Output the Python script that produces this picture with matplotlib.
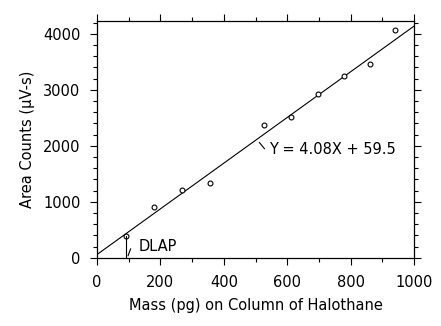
import matplotlib
matplotlib.use("Agg")
import matplotlib.pyplot as plt
import numpy as np

# data
mass = [90, 179, 269, 355, 528, 612, 696, 780, 862, 941]
counts = [398, 909, 1218, 1331, 2377, 2520, 2930, 3251, 3465, 4077]
slope = 4.08
intercept = 59.5
dlap = 90

plt.rcParams['font.family'] = 'DejaVu Sans'

fig = plt.figure(figsize=(4.41, 3.26), dpi=100)
ax = fig.add_axes([0.22, 0.209, 0.719, 0.727])

xfit = np.array([0, 1000])
ax.plot(xfit, slope * xfit + intercept, color='black', lw=0.8)
ax.plot(mass, counts, 'o', mfc='white', mec='black', ms=3.5, mew=0.8)

# DLAP marker
ax.plot([dlap, dlap], [0, counts[0]], color='black', lw=0.8)
ax.plot([98, 106], [40, 160], color='black', lw=0.8)
ax.text(132, 200, 'DLAP', fontsize=10.5, va='center', ha='left')

# equation label
ax.plot([512, 528], [2060, 1950], color='black', lw=0.8)
ax.text(542, 1930, 'Y = 4.08X + 59.5', fontsize=10.5, va='center', ha='left')

ax.set_xlim(0, 1000)
ax.set_ylim(0, 4232)
ax.set_xticks(np.arange(0, 1001, 200))
ax.set_xticks(np.arange(0, 1001, 100), minor=True)
ax.set_yticks(np.arange(0, 4001, 1000))
ax.set_yticks(np.arange(0, 4201, 200), minor=True)
ax.tick_params(which='both', direction='out', top=True, right=True,
               labelsize=10.5, width=0.8, pad=7)
ax.tick_params(which='major', length=5)
ax.tick_params(which='minor', length=3)
for s in ax.spines.values():
    s.set_linewidth(0.9)

ax.set_xlabel('Mass (pg) on Column of Halothane', fontsize=10.5, labelpad=6)
ax.set_ylabel('Area Counts (\u00b5V-s)', fontsize=10.5, labelpad=6)

fig.savefig('out.png', dpi=100)
